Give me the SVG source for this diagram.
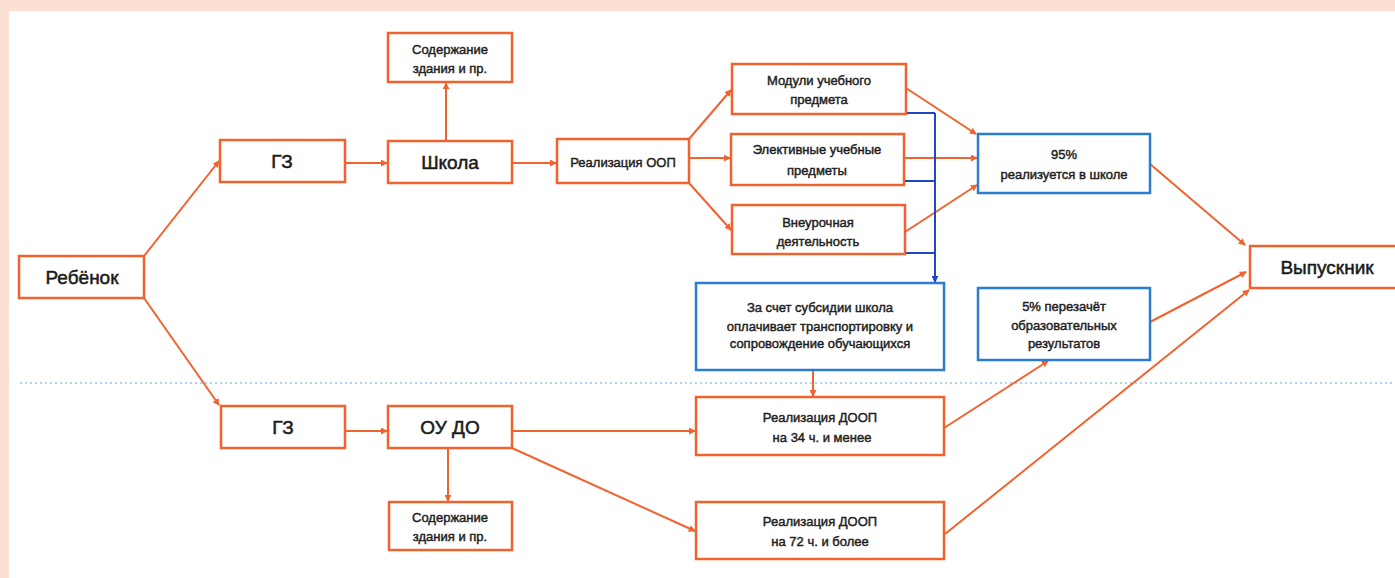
<svg xmlns="http://www.w3.org/2000/svg" width="1395" height="578" viewBox="0 0 1395 578">
<style>
.bo{fill:#fff;stroke:#f2622e;stroke-width:2.5}
.bb{fill:#fff;stroke:#2a7dcc;stroke-width:2.5}
.t{font-family:"Liberation Sans",Arial,sans-serif;font-size:13px;fill:#1e1e1e;text-anchor:middle;stroke:#1e1e1e;stroke-width:0.45}
.T{font-family:"Liberation Sans",Arial,sans-serif;font-size:19px;fill:#1a1a1a;text-anchor:middle;stroke:#1a1a1a;stroke-width:0.5}
.co{fill:none;stroke:#f2622e;stroke-width:2}
.cb{fill:none;stroke:#2146c2;stroke-width:2}
</style>
<defs>
<marker id="ao" viewBox="0 0 8 8" refX="7" refY="4" markerWidth="7" markerHeight="7" markerUnits="userSpaceOnUse" orient="auto"><path d="M0,0 L8,4 L0,8 Z" fill="#f2622e"/></marker>
<marker id="ab" viewBox="0 0 8 8" refX="7" refY="4" markerWidth="7" markerHeight="7" markerUnits="userSpaceOnUse" orient="auto"><path d="M0,0 L8,4 L0,8 Z" fill="#2146c2"/></marker>
</defs>
<rect x="0" y="0" width="1395" height="578" fill="#fbe0d3"/>
<rect x="9" y="11" width="1386" height="567" fill="#fff"/>
<line x1="20" y1="383" x2="1395" y2="383" stroke="#9cc3e5" stroke-width="1.5" stroke-dasharray="2 3"/>

<g id="connectors">
<line class="co" x1="144" y1="256" x2="219" y2="161" marker-end="url(#ao)"/>
<line class="co" x1="144" y1="298" x2="219" y2="405" marker-end="url(#ao)"/>
<line class="co" x1="345" y1="163" x2="387" y2="163" marker-end="url(#ao)"/>
<line class="co" x1="446" y1="141" x2="446" y2="83" marker-end="url(#ao)"/>
<line class="co" x1="512" y1="163" x2="556" y2="163" marker-end="url(#ao)"/>
<line class="co" x1="689" y1="139" x2="731" y2="90" marker-end="url(#ao)"/>
<line class="co" x1="689" y1="158" x2="730" y2="158" marker-end="url(#ao)"/>
<line class="co" x1="689" y1="183" x2="731" y2="230" marker-end="url(#ao)"/>
<line class="co" x1="906" y1="88" x2="976" y2="134" marker-end="url(#ao)"/>
<line class="co" x1="904" y1="158" x2="977" y2="158" marker-end="url(#ao)"/>
<line class="co" x1="905" y1="232" x2="977" y2="185" marker-end="url(#ao)"/>
<path class="cb" d="M906,113 H935 M904,181 H935 M905,253 H935"/>
<line class="cb" x1="935" y1="113" x2="935" y2="282" marker-end="url(#ab)"/>
<line class="co" x1="1150" y1="164" x2="1245" y2="245" marker-end="url(#ao)"/>
<line class="co" x1="1150" y1="322" x2="1246" y2="272" marker-end="url(#ao)"/>
<line class="co" x1="945" y1="534" x2="1249" y2="290" marker-end="url(#ao)"/>
<line class="co" x1="944" y1="428" x2="1048" y2="361" marker-end="url(#ao)"/>
<line class="co" x1="813" y1="370" x2="813" y2="396" marker-end="url(#ao)"/>
<line class="co" x1="345" y1="431" x2="387" y2="431" marker-end="url(#ao)"/>
<line class="co" x1="512" y1="431" x2="695" y2="431" marker-end="url(#ao)"/>
<line class="co" x1="512" y1="448" x2="695" y2="531" marker-end="url(#ao)"/>
<line class="co" x1="448" y1="448" x2="448" y2="501" marker-end="url(#ao)"/>
</g>

<g id="rebenok"><rect class="bo" x="19" y="256" width="125" height="42"/><text class="T" x="82" y="284">Ребёнок</text></g>
<g id="gz-top"><rect class="bo" x="220" y="140" width="125" height="42"/><text class="T" x="282" y="168" font-size="18">ГЗ</text></g>
<g id="shkola"><rect class="bo" x="388" y="141" width="124" height="42"/><text class="T" x="450" y="169" font-size="20">Школа</text></g>
<g id="soderzh-top"><rect class="bo" x="388" y="33" width="124" height="49"/><text class="t" x="450" y="54">Содержание</text><text class="t" x="450" y="73">здания и пр.</text></g>
<g id="real-oop"><rect class="bo" x="557" y="139" width="132" height="44"/><text class="t" x="623" y="167">Реализация ООП</text></g>
<g id="moduli"><rect class="bo" x="732" y="64" width="174" height="50"/><text class="t" x="819" y="85">Модули учебного</text><text class="t" x="819" y="104">предмета</text></g>
<g id="elektiv"><rect class="bo" x="731" y="134" width="173" height="51"/><text class="t" x="817" y="154">Элективные учебные</text><text class="t" x="817" y="175">предметы</text></g>
<g id="vneur"><rect class="bo" x="732" y="205" width="173" height="49"/><text class="t" x="818" y="227">Внеурочная</text><text class="t" x="818" y="246">деятельность</text></g>
<g id="p95"><rect class="bb" x="978" y="134" width="172" height="59"/><text class="t" x="1064" y="159">95%</text><text class="t" x="1064" y="179">реализуется в школе</text></g>
<g id="vypusknik"><rect class="bo" x="1250" y="246" width="155" height="42"/><text class="T" x="1327" y="274">Выпускник</text></g>
<g id="p5"><rect class="bb" x="978" y="288" width="172" height="72"/><text class="t" x="1064" y="311">5% перезачёт</text><text class="t" x="1064" y="330">образовательных</text><text class="t" x="1064" y="348">результатов</text></g>
<g id="subsidii"><rect class="bb" x="696" y="283" width="248" height="87"/><text class="t" x="820" y="312">За счет субсидии школа</text><text class="t" x="820" y="331">оплачивает транспортировку и</text><text class="t" x="820" y="348">сопровождение обучающихся</text></g>
<g id="doop34"><rect class="bo" x="696" y="397" width="248" height="58"/><text class="t" x="820" y="422">Реализация ДООП</text><text class="t" x="822" y="442">на 34 ч. и менее</text></g>
<g id="doop72"><rect class="bo" x="696" y="502" width="248" height="57"/><text class="t" x="820" y="526">Реализация ДООП</text><text class="t" x="820" y="546">на 72 ч. и более</text></g>
<g id="gz-bottom"><rect class="bo" x="221" y="406" width="124" height="42"/><text class="T" x="283" y="434" font-size="18">ГЗ</text></g>
<g id="ou-do"><rect class="bo" x="388" y="406" width="124" height="42"/><text class="T" x="450" y="434">ОУ ДО</text></g>
<g id="soderzh-bottom"><rect class="bo" x="389" y="502" width="123" height="48"/><text class="t" x="450" y="522">Содержание</text><text class="t" x="450" y="541">здания и пр.</text></g>
</svg>
